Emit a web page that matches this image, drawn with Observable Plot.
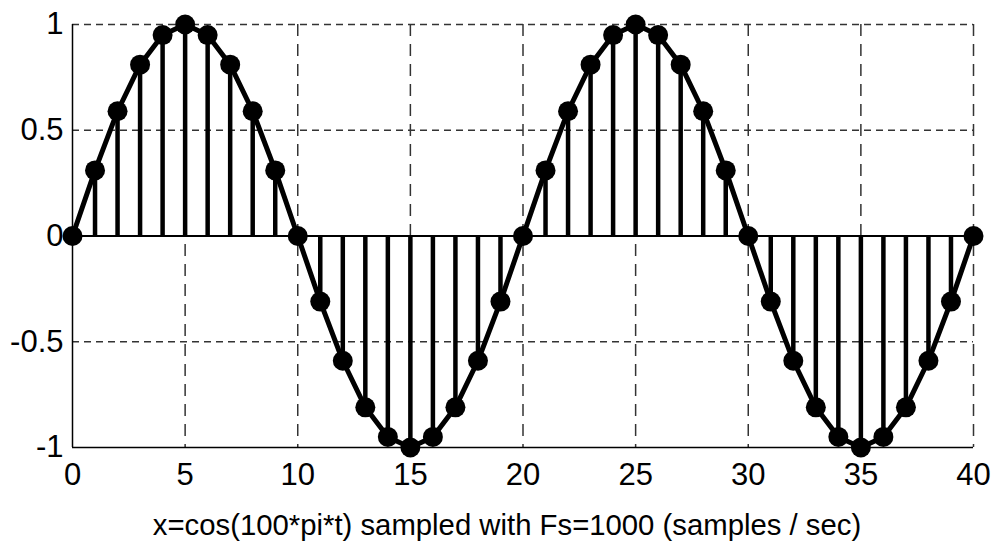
<!DOCTYPE html>
<html>
<head>
<meta charset="utf-8">
<script src="https://cdn.jsdelivr.net/npm/d3@7"></script>
<script src="https://cdn.jsdelivr.net/npm/@observablehq/plot@0.6"></script>
<style>
  html, body { margin: 0; padding: 0; background: #fff; }
  #chart svg { display: block; }
</style>
</head>
<body>
<div id="chart"></div>
<script>
const samples = [0,1,2,3,4,5,6,7,8,9,10,11,12,13,14,15,16,17,18,19,20,21,22,23,24,25,26,27,28,29,30,31,32,33,34,35,36,37,38,39,40];
const amplitudes = [0, 0.31, 0.59, 0.81, 0.95, 1, 0.95, 0.81, 0.59, 0.31,
                    0, -0.31, -0.59, -0.81, -0.95, -1, -0.95, -0.81, -0.59, -0.31,
                    0, 0.31, 0.59, 0.81, 0.95, 1, 0.95, 0.81, 0.59, 0.31,
                    0, -0.31, -0.59, -0.81, -0.95, -1, -0.95, -0.81, -0.59, -0.31, 0];
const xTicks = [0, 5, 10, 15, 20, 25, 30, 35, 40];
const yTicks = [-1, -0.5, 0, 0.5, 1];
const xGridLines = [5, 10, 15, 20, 25, 30, 35, 40];
const yGridLines = [-0.5, 0.5, 1];
const xLabel = "x=cos(100*pi*t) sampled with Fs=1000 (samples / sec)";

const data = samples.map((n, i) => ({n, v: amplitudes[i]}));

const chart = Plot.plot({
  width: 991,
  height: 545,
  marginLeft: 72,
  marginRight: 18,
  marginTop: 24,
  marginBottom: 98,
  style: {fontFamily: "'Liberation Sans', Arial, sans-serif", background: "#fff", color: "#000"},
  x: {domain: [0, 40]},
  y: {domain: [-1, 1]},
  marks: [
    Plot.ruleX(xGridLines, {stroke: "#333", strokeWidth: 1.5, strokeDasharray: "12,8"}),
    Plot.ruleY(yGridLines, {stroke: "#333", strokeWidth: 1.5, strokeDasharray: "7,5"}),
    Plot.ruleX([0], {stroke: "#000", strokeWidth: 1.5}),
    Plot.ruleY([-1], {stroke: "#000", strokeWidth: 1.5}),
    Plot.ruleY([0], {stroke: "#000", strokeWidth: 2}),
    Plot.ruleX(data, {x: "n", y1: 0, y2: "v", stroke: "#000", strokeWidth: 4.5}),
    Plot.line(data, {x: "n", y: "v", stroke: "#000", strokeWidth: 5}),
    Plot.dot(data, {x: "n", y: "v", r: 10, fill: "#000", stroke: "none"}),
    Plot.axisX({ticks: xTicks, tickSize: 0, tickPadding: 15, fontSize: 31, label: null, tickFormat: d => String(d)}),
    Plot.axisY({ticks: yTicks, tickSize: 0, tickPadding: 9, fontSize: 31, label: null, tickFormat: d => String(d)}),
    Plot.text([xLabel], {frameAnchor: "bottom", dy: 78, dx: -16, fontSize: 29.3, fill: "#000", textAnchor: "middle", lineAnchor: "middle"})
  ]
});
document.getElementById("chart").appendChild(chart);
</script>
</body>
</html>
